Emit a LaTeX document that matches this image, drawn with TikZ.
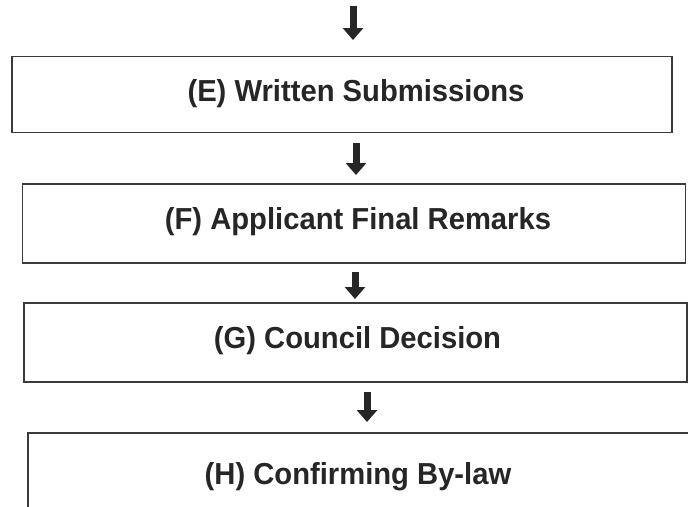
\documentclass[tikz,border=0pt]{standalone}
\usepackage{fontspec}
\setmainfont{Liberation Sans}
\usetikzlibrary{arrows.meta}
\definecolor{ink}{HTML}{262626}
\definecolor{edge}{HTML}{3A3A3A}
\tikzset{
  stagebox/.style={draw=edge, line width=1.9pt, rectangle, inner sep=0pt, fill=white},
  stagetext/.style={anchor=base, inner sep=0pt, text=ink, yscale=1.04, font=\fontsize{29.2}{33}\selectfont\bfseries},
  flowarrow/.style={draw=ink, line width=7pt, -{Triangle[width=20pt,length=12pt]}, shorten >=0pt},
}
\begin{document}
\begin{tikzpicture}[x=1pt,y=-1pt]
\useasboundingbox (0,0) rectangle (688,506);
\clip (0,0) rectangle (688,506);
\fill[white] (0,0) rectangle (688,506);
% boxes
\node[stagebox, minimum width=660pt, minimum height=76pt] (E) at (342,94.5) {};
\node[stagebox, minimum width=663pt, minimum height=79pt] (F) at (354,223.5) {};
\node[stagebox, minimum width=663pt, minimum height=79pt] (G) at (355.5,342.5) {};
\node[stagebox, minimum width=682pt, minimum height=100pt] (H) at (369,483) {};
% texts
\node[stagetext] (Et) at (356,101) {(E) Written Submissions};
\node[stagetext] (Ft) at (358,229) {(F) Applicant Final Remarks};
\node[stagetext] (Gt) at (357.5,348.5) {(G) Council Decision};
\node[stagetext] (Ht) at (358,484) {(H) Confirming By-law};
% arrow end points
\coordinate (a1s) at (353,6);   \coordinate (a1e) at (353,40);
\coordinate (a2s) at (356,143); \coordinate (a2e) at (356,175);
\coordinate (a3s) at (355,272); \coordinate (a3e) at (355,299);
\coordinate (a4s) at (367,392); \coordinate (a4e) at (367,422);
\draw[flowarrow] (a1s) -- (a1e);
\draw[flowarrow] (a2s) -- (a2e);
\draw[flowarrow] (a3s) -- (a3e);
\draw[flowarrow] (a4s) -- (a4e);
\end{tikzpicture}
\end{document}
